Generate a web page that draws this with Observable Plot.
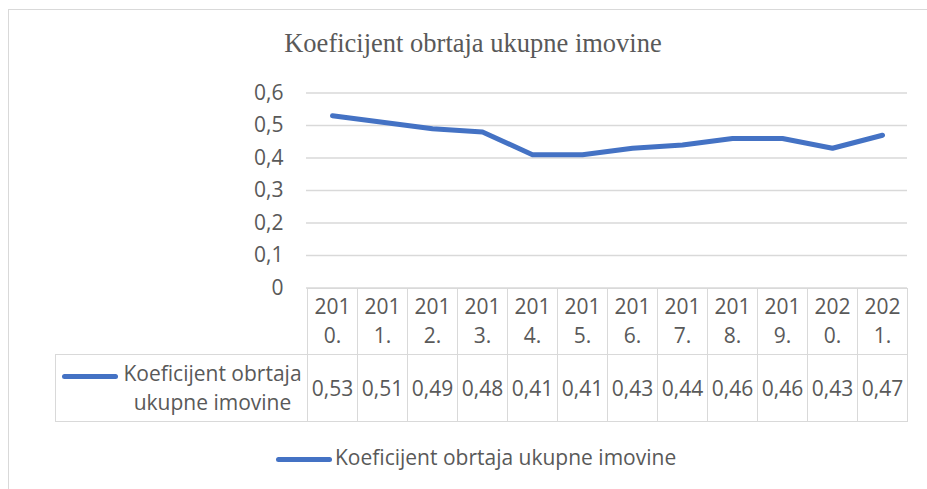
<!DOCTYPE html>
<html>
<head>
<meta charset="utf-8">
<script src="https://cdn.jsdelivr.net/npm/d3@7"></script>
<script src="https://cdn.jsdelivr.net/npm/@observablehq/plot@0.6"></script>
<style>
  html, body { margin: 0; padding: 0; background: #fff; }
  #wrap { position: relative; width: 927px; height: 489px; overflow: hidden; font-family: "Open Sans", sans-serif; color: #595959; }
  #frame { position: absolute; left: 8px; top: 9px; width: 1000px; height: 600px; border: 1.5px solid #d9d9d9; box-sizing: border-box; }
  #title { position: absolute; left: 0; width: 946px; top: 27px; text-align: center; font-family: "Liberation Serif", "Times New Roman", serif; font-size: 26.5px; line-height: 32px; color: #595959; }
  #plot { position: absolute; left: 0; top: 0; }
  #table { position: absolute; border-collapse: collapse; font-size: 21px; color: #595959; }
  #table td { border: 1.4px solid #d9d9d9; padding: 0; text-align: center; box-sizing: border-box; }
  #table td.blank { border: none; }
  .key { display: inline-block; width: 56px; height: 5px; border-radius: 3px; background: #4472C4; vertical-align: middle; }
  #legend { position: absolute; left: 276px; top: 441px; font-size: 21px; line-height: 32px; white-space: nowrap; }
</style>
</head>
<body>
<div id="wrap">
  <div id="frame"></div>
  <div id="title"></div>
  <div id="plotHolder"></div>
  <table id="table"></table>
  <div id="legend"></div>
</div>
<script>
const chartTitle = "Koeficijent obrtaja ukupne imovine";
const seriesName = "Koeficijent obrtaja ukupne imovine";
const years = ["2010.", "2011.", "2012.", "2013.", "2014.", "2015.", "2016.", "2017.", "2018.", "2019.", "2020.", "2021."];
const values = [0.53, 0.51, 0.49, 0.48, 0.41, 0.41, 0.43, 0.44, 0.46, 0.46, 0.43, 0.47];
const yTicks = [0, 0.1, 0.2, 0.3, 0.4, 0.5, 0.6];

const fmt = v => v === 0 ? "0" : (Math.round(v * 100) / 100).toString().replace(".", ",");
const data = years.map((year, i) => ({year, value: values[i]}));

const W = 927, H = 489;
const plot = Plot.plot({
  width: W,
  height: H,
  marginLeft: 306,
  marginRight: 20,
  marginTop: 92.5,
  marginBottom: 201.5,
  style: {fontFamily: "Open Sans, sans-serif", fontSize: "21px", color: "#595959", background: "transparent", overflow: "visible"},
  x: {type: "point", domain: years, padding: 0.5, axis: null},
  y: {domain: [0, 0.6], ticks: yTicks},
  marks: [
    Plot.ruleY(yTicks, {stroke: "#d9d9d9", strokeWidth: 1.4}),
    Plot.axisY({ticks: yTicks, tickSize: 0, tickPadding: 23, tickFormat: fmt, label: null, fill: "#595959"}),
    Plot.line(data, {x: "year", y: "value", stroke: "#4472C4", strokeWidth: 5, strokeLinecap: "round", strokeLinejoin: "round"})
  ]
});
document.getElementById("plotHolder").appendChild(plot);
plot.id = "plot";
plot.style.position = "absolute";
plot.style.left = "0px";
plot.style.top = "0px";

document.getElementById("title").textContent = chartTitle;

// data table aligned to the x scale
const xs = plot.scale("x");
const ys = plot.scale("y");
const colW = xs.apply(years[1]) - xs.apply(years[0]);
const left0 = xs.apply(years[0]) - colW / 2;
const top0 = ys.apply(0);
const rowH = 66.7;
const labelW = 252;

const table = document.getElementById("table");
table.style.left = (left0 - labelW) + "px";
table.style.top = top0 + "px";

const head = document.createElement("tr");
const blank = document.createElement("td");
blank.className = "blank";
blank.style.width = labelW + "px";
blank.style.height = rowH + "px";
head.appendChild(blank);
years.forEach(y => {
  const td = document.createElement("td");
  td.style.width = colW + "px";
  td.style.lineHeight = "29px";
  td.innerHTML = y.slice(0, 3) + "<br>" + y.slice(3);
  head.appendChild(td);
});
table.appendChild(head);

const row = document.createElement("tr");
const lab = document.createElement("td");
lab.style.height = rowH + "px";
lab.style.width = labelW + "px";
lab.innerHTML = '<div style="display:flex;align-items:flex-start;padding-left:6px;"><span class="key" style="margin-top:15px;"></span><span style="flex:1;line-height:29.5px;text-align:center;white-space:nowrap;">' +
  seriesName.replace(" ukupne", "<br>ukupne") + '</span></div>';
row.appendChild(lab);
values.forEach(v => {
  const td = document.createElement("td");
  td.style.width = colW + "px";
  td.textContent = fmt(v);
  row.appendChild(td);
});
table.appendChild(row);

document.getElementById("legend").innerHTML = '<span class="key" style="margin-right:3px;"></span>' + seriesName;
</script>
</body>
</html>
